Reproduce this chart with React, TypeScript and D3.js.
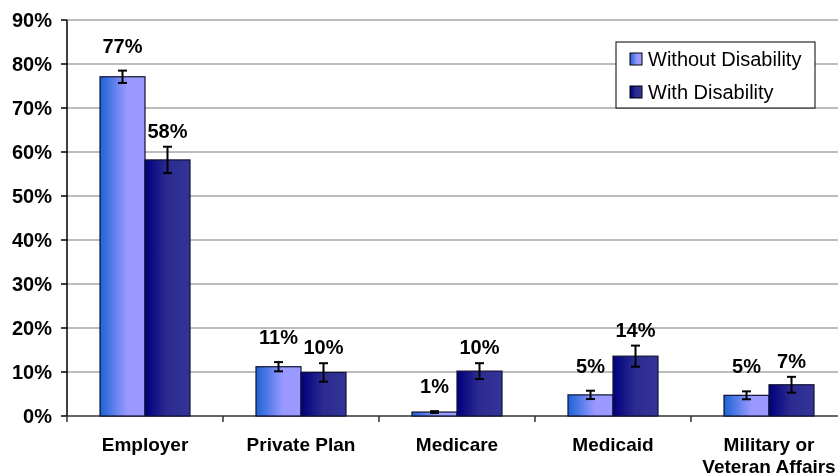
import { useEffect, useRef } from 'react';
import { scaleBand, scaleLinear, select } from 'd3';

const categories = ['Employer', 'Private Plan', 'Medicare', 'Medicaid', 'Military or\nVeteran Affairs'];
const seriesNames = ['Without Disability', 'With Disability'];
const withoutDisability = [77.1, 11.2, 0.9, 4.8, 4.7];
const withDisability = [58.2, 9.9, 10.2, 13.6, 7.1];
const withoutErr = [1.4, 1.05, 0.2, 0.95, 0.9];
const withErr = [3.0, 2.1, 1.8, 2.4, 1.8];
const withoutLabels = ['77%', '11%', '1%', '5%', '5%'];
const withLabels = ['58%', '10%', '10%', '14%', '7%'];
const yTicks = [0, 10, 20, 30, 40, 50, 60, 70, 80, 90];

export default function App() {
  const svgRef = useRef<SVGSVGElement>(null);

  useEffect(() => {
    const width = 838;
    const height = 476;
    const left = 67;
    const top = 20;
    const bottom = 416;
    const font = '"Liberation Sans", Arial, sans-serif';

    const svg = select(svgRef.current);
    svg.selectAll('*').remove();
    svg.attr('width', width).attr('height', height);

    const defs = svg.append('defs');
    const g1 = defs.append('linearGradient').attr('id', 'gLight');
    g1.append('stop').attr('offset', '0%').attr('stop-color', '#1c63d6');
    g1.append('stop').attr('offset', '60%').attr('stop-color', '#9999ff');
    g1.append('stop').attr('offset', '100%').attr('stop-color', '#9999ff');
    const g2 = defs.append('linearGradient').attr('id', 'gDark');
    g2.append('stop').attr('offset', '0%').attr('stop-color', '#00007e');
    g2.append('stop').attr('offset', '50%').attr('stop-color', '#2c2c90');
    g2.append('stop').attr('offset', '100%').attr('stop-color', '#333399');
    const fills = ['url(#gLight)', 'url(#gDark)'];

    // category bands (the last one runs past the right edge)
    const fx = scaleBand()
      .domain(categories)
      .range([left, left + 156 * categories.length])
      .padding(0);

    const x = scaleBand().domain(seriesNames).range([33, 123]).padding(0);

    const y = scaleLinear().domain([0, 90]).range([bottom, top]);

    // gridlines
    svg
      .selectAll('line.grid')
      .data(yTicks.filter((t) => t > 0))
      .enter()
      .append('line')
      .attr('x1', left)
      .attr('x2', width)
      .attr('y1', (d) => y(d))
      .attr('y2', (d) => y(d))
      .attr('stroke', '#a6a6a6')
      .attr('stroke-width', 1.5);

    // y axis
    svg.append('line').attr('x1', left).attr('x2', left).attr('y1', top).attr('y2', bottom).attr('stroke', '#000').attr('stroke-width', 1.5);
    yTicks.forEach((t) => {
      svg.append('line').attr('x1', left - 6).attr('x2', left).attr('y1', y(t)).attr('y2', y(t)).attr('stroke', '#000').attr('stroke-width', 1.5);
      svg
        .append('text')
        .attr('x', 52)
        .attr('y', y(t))
        .attr('dy', '0.36em')
        .attr('text-anchor', 'end')
        .attr('font-family', font)
        .attr('font-weight', 'bold')
        .attr('font-size', 20)
        .text(`${t}%`);
    });

    // x axis
    svg.append('line').attr('x1', left).attr('x2', width).attr('y1', bottom).attr('y2', bottom).attr('stroke', '#333').attr('stroke-width', 1.5);
    categories.forEach((c) => {
      const bx = fx(c)!;
      svg.append('line').attr('x1', bx).attr('x2', bx).attr('y1', bottom).attr('y2', bottom + 6).attr('stroke', '#333').attr('stroke-width', 1.5);
      const lines = c.split('\n');
      lines.forEach((ln, i) => {
        svg
          .append('text')
          .attr('x', bx + fx.bandwidth() / 2)
          .attr('y', 451 + i * 21.5)
          .attr('text-anchor', 'middle')
          .attr('font-family', font)
          .attr('font-weight', 'bold')
          .attr('font-size', 19)
          .text(ln);
      });
    });

    const series = [
      { name: seriesNames[0], values: withoutDisability, err: withoutErr, labels: withoutLabels, gap: 18 },
      { name: seriesNames[1], values: withDisability, err: withErr, labels: withLabels, gap: 9 },
    ];

    series.forEach((s, si) => {
      categories.forEach((c, i) => {
        const bx = fx(c)! + x(s.name)!;
        const v = s.values[i];
        svg
          .append('rect')
          .attr('x', bx)
          .attr('y', y(v))
          .attr('width', x.bandwidth())
          .attr('height', y(0) - y(v))
          .attr('fill', fills[si])
          .attr('stroke', '#111133')
          .attr('stroke-width', 1.2);

        const cx = bx + x.bandwidth() / 2;
        const hi = y(v + s.err[i]);
        const lo = y(v - s.err[i]);
        svg.append('line').attr('x1', cx).attr('x2', cx).attr('y1', hi).attr('y2', lo).attr('stroke', '#000').attr('stroke-width', 2);
        [hi, lo].forEach((yy) => {
          svg.append('line').attr('x1', cx - 4.5).attr('x2', cx + 4.5).attr('y1', yy).attr('y2', yy).attr('stroke', '#000').attr('stroke-width', 2);
        });

        svg
          .append('text')
          .attr('x', cx)
          .attr('y', hi - s.gap)
          .attr('text-anchor', 'middle')
          .attr('font-family', font)
          .attr('font-weight', 'bold')
          .attr('font-size', 20)
          .text(s.labels[i]);
      });
    });

    // legend
    const lg = svg.append('g');
    lg.append('rect').attr('x', 616).attr('y', 42).attr('width', 199).attr('height', 66).attr('fill', '#fff').attr('stroke', '#000').attr('stroke-width', 1);
    seriesNames.forEach((n, i) => {
      const ly = 53 + i * 33;
      lg.append('rect').attr('x', 630).attr('y', ly).attr('width', 12).attr('height', 12).attr('fill', fills[i]).attr('stroke', '#000').attr('stroke-width', 1);
      lg.append('text')
        .attr('x', 648)
        .attr('y', ly + 13)
        .attr('font-family', font)
        .attr('font-size', 20)
        .text(n);
    });
  }, []);

  return (
    <div>
      <svg ref={svgRef} style={{ position: 'fixed', left: 0, top: 0, display: 'block' }}></svg>
    </div>
  );
}
